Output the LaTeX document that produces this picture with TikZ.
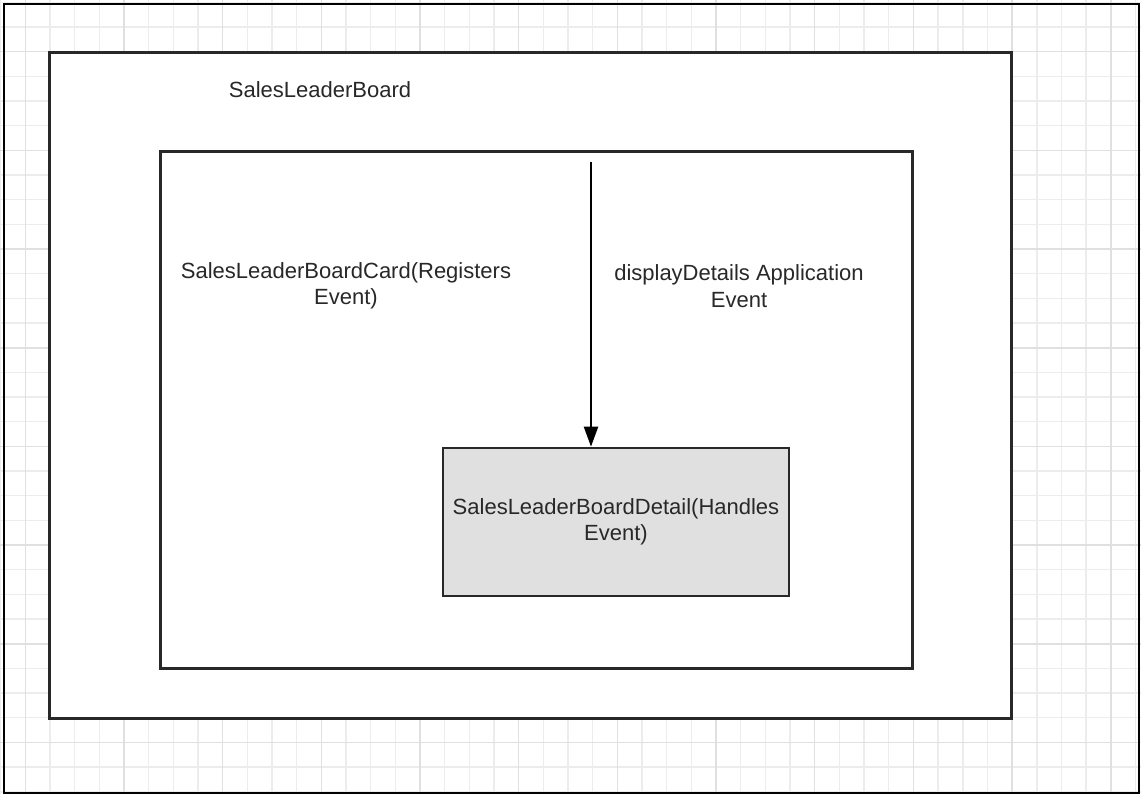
\documentclass[tikz,border=0pt]{standalone}
\usepackage{fontspec}
\setmainfont{Liberation Sans}
\usetikzlibrary{positioning, arrows.meta}
\definecolor{gridminor}{RGB}{236,236,236}
\definecolor{gridmajor}{RGB}{224,224,224}
\definecolor{edge}{RGB}{40,40,40}
\definecolor{ink}{RGB}{40,40,40}
\definecolor{detailfill}{RGB}{224,224,224}

\begin{document}
\begin{tikzpicture}[
  x=1pt, y=-1pt,
  minorline/.style={draw=gridminor, line width=1.4pt},
  majorline/.style={draw=gridmajor, line width=1.6pt},
  container/.style={draw=edge, line width=3pt, inner sep=0pt},
  caption/.style={font=\fontsize{22}{26.5}\selectfont, text=ink, align=center, inner sep=0pt},
  arr/.style={-{Triangle[length=20pt, width=14pt]}, line width=2.2pt, color=black},
]
  \useasboundingbox (0,0) rectangle (1141,794);

  % background grid
  \foreach \i in {0,...,46}
    \draw[minorline] ({0.66+24.67*\i},0) -- ++(0,794);
  \foreach \i in {0,...,32}
    \draw[minorline] (0,{2.36+24.67*\i}) -- ++(1141,0);
  \foreach \i in {0,...,11}
    \draw[majorline] ({25.33+98.67*\i},0) -- ++(0,794);
  \foreach \i in {0,...,7}
    \draw[majorline] (0,{51.7+98.67*\i}) -- ++(1141,0);
  \draw[line width=2.4pt, black] (4,4) rectangle (1139,793);

  % components
  \node[container, fill=white, minimum width=962pt, minimum height=665pt] (board) at (530,385.5) {};
  \node[container, fill=white, minimum width=752pt, minimum height=516pt] (card) at (536,410) {};
  \node[container, fill=detailfill, line width=2.6pt, minimum width=346pt, minimum height=148pt,
        font=\fontsize{22}{26.5}\selectfont, text=ink, align=center] (detail) at (616,522)
    {SalesLeaderBoardDetail(Handles\\Event)};

  % labels
  \node[caption] (boardname) at (320,90) {SalesLeaderBoard};
  \node[caption] (cardname) at (346,286) {SalesLeaderBoardCard(Registers\\Event)};
  \node[caption] (eventname) at (739,286) {displayDetails Application\\Event};

  % event flow
  \coordinate (source) at (591,162);
  \draw[arr] (source) -- (source |- detail.north);
\end{tikzpicture}
\end{document}
